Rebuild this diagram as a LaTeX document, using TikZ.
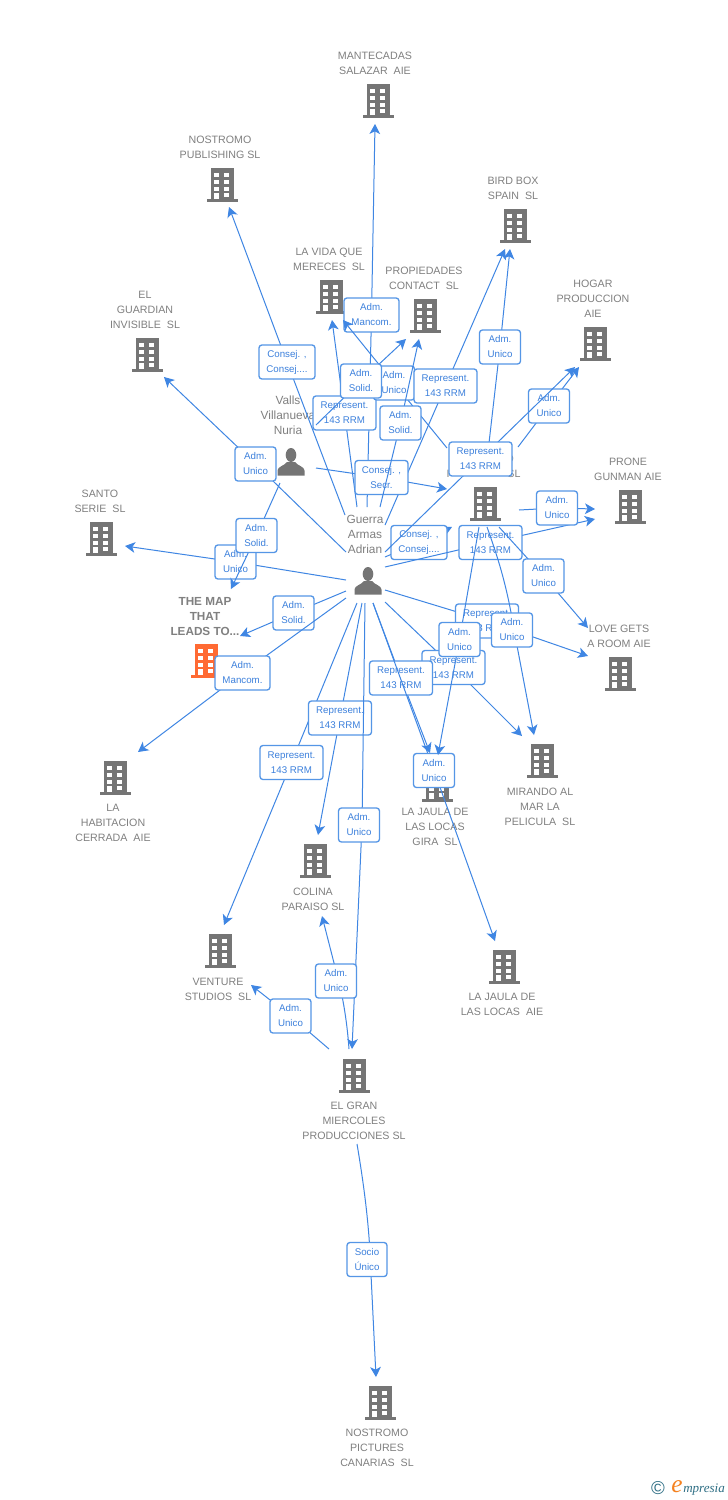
\documentclass[tikz,border=0pt]{standalone}
\usepackage{fontspec}
\setmainfont{Liberation Sans}
\newfontfamily\logofont{Liberation Serif}
\usetikzlibrary{arrows.meta,calc}
\definecolor{linkblue}{HTML}{3F86E3}
\definecolor{boxblue}{HTML}{5596E6}
\definecolor{boxtext}{HTML}{3C80DC}
\definecolor{labelgray}{HTML}{808080}
\definecolor{icongray}{HTML}{757575}
\definecolor{mapred}{HTML}{FF6A33}
\definecolor{logoteal}{HTML}{2F6F85}
\definecolor{logoorange}{HTML}{F58220}
\tikzset{
  x=0.75pt,y=-0.75pt,
  link/.style={draw=linkblue,line width=0.75pt,-{Stealth[length=7.5pt,width=8pt,inset=2pt]}},
  tagbox/.style={draw=boxblue,line width=1pt,fill=white,rounded corners=2.2pt,inner sep=0pt,
    minimum height=25.5pt,align=center,text=boxtext,font=\fontsize{7.3}{11.25}\selectfont},
  lab/.style={yshift=-0.6pt,text=labelgray,align=center,inner sep=0pt,font=\fontsize{8}{11.25}\selectfont},
  perlab/.style={yshift=-0.6pt,text=labelgray,align=center,inner sep=0pt,font=\fontsize{8.9}{11.25}\selectfont},
  maplab/.style={yshift=-0.6pt,text=labelgray,align=center,inner sep=0pt,font=\fontsize{8.8}{11.25}\selectfont\bfseries},
  marker/.style={inner sep=0pt,minimum width=23.25pt,minimum height=25.5pt},
  bldg/.pic={
    \fill[#1] (-11.5,-17) rectangle (11.5,14);
    \fill[#1] (-15.5,14) rectangle (15.5,17);
    \foreach \yy in {-12.3,-5,1.7}{
      \fill[white] (-7.8,\yy) rectangle ++(4.4,4.2);
      \fill[white] (2.2,\yy) rectangle ++(4.4,4.2);
    }
    \fill[white] (-7.8,7.7) rectangle (-3.4,14);
    \fill[white] (2.2,7.7) rectangle (6.6,11.7);
  },
  personpic/.pic={
    \fill[icongray] (0,-7) ellipse [x radius=5.3,y radius=7];
    \fill[icongray] (-13.5,13.5) -- (-13.5,8.5) .. controls (-13.5,4.5) and (-6,3.5) .. (-4,0)
      -- (4,0) .. controls (6,3.5) and (13.5,4.5) .. (13.5,8.5) -- (13.5,13.5) -- cycle;
  },
}
% #1 name, #2 x, #3 y, #4 colour
\newcommand\bldgat[4]{\node[marker] (#1) at (#2,#3) {}; \pic at (#1) {bldg=#4};}
\newcommand\personat[3]{\node[marker] (#1) at (#2,#3) {}; \pic at (#1) {personpic};}
% #1 id, #2 source node, #3 source offset, #4 target node, #5 target offset, #6 box centre, #7 width (px), #8 text
\newcommand\lnk[8]{\draw[link] ($(#2)+(#3)$) -- (#6)
  node[tagbox,pos=1,minimum width=#7*0.75pt] (#1) {#8} -- ($(#4)+(#5)$);}
% bent connector: #1 id, #2 full path, #3 box centre, #4 width, #5 text
\newcommand\bentlnk[5]{\draw[link] #2; \node[tagbox,minimum width=#4*0.75pt] (#1) at (#3) {#5};}
\begin{document}
\begin{tikzpicture}
\useasboundingbox (0,0) rectangle (728,1500);
\fill[white] (0,0) rectangle (728,1500);

% --- companies and people
\bldgat{mantecadas}{378}{101}{icongray}
\node[lab] (mantecadasL) at (375,62.5) {MANTECADAS\\SALAZAR\ \ AIE};
\bldgat{nostromo}{222}{185}{icongray}
\node[lab] (nostromoL) at (220,146.5) {NOSTROMO\\PUBLISHING SL};
\bldgat{birdbox}{515}{226}{icongray}
\node[lab] (birdboxL) at (513,187.5) {BIRD BOX\\SPAIN\ \ SL};
\bldgat{lavida}{331}{297}{icongray}
\node[lab] (lavidaL) at (329,258.5) {LA VIDA QUE\\MERECES\ \ SL};
\bldgat{propiedades}{425}{316}{icongray}
\node[lab] (propiedadesL) at (424,277.5) {PROPIEDADES\\CONTACT\ \ SL};
\bldgat{hogar}{595}{344}{icongray}
\node[lab] (hogarL) at (593,298) {HOGAR\\PRODUCCION\\AIE};
\bldgat{guardian}{147}{355}{icongray}
\node[lab] (guardianL) at (145,309) {EL\\GUARDIAN\\INVISIBLE\ \ SL};
\bldgat{prone}{630}{507}{icongray}
\node[lab] (proneL) at (628,468.5) {PRONE\\GUNMAN AIE};
\bldgat{hub}{485}{504}{icongray}
\node[lab] (hubA) at (510,458) {D};
\node[lab] (hubB) at (448,473) {I};
\node[lab] (hubC) at (514,473) {SL};
\bldgat{santo}{101}{539}{icongray}
\node[lab] (santoL) at (100,500.5) {SANTO\\SERIE\ \ SL};
\bldgat{themap}{206}{661}{mapred}
\node[maplab] (themapL) at (205,616) {THE MAP\\THAT\\LEADS TO...};
\bldgat{lovegets}{620}{674}{icongray}
\node[lab] (lovegetsL) at (619,635.5) {LOVE GETS\\A ROOM AIE};
\bldgat{habit}{115}{778}{icongray}
\node[lab] (habitL) at (113,822) {LA\\HABITACION\\CERRADA\ \ AIE};
\bldgat{mirando}{542}{761}{icongray}
\node[lab] (mirandoL) at (540,806) {MIRANDO AL\\MAR LA\\PELICULA\ \ SL};
\bldgat{jaulagira}{437}{785}{icongray}
\node[lab] (jaulagiraL) at (435,826) {LA JAULA DE\\LAS LOCAS\\GIRA\ \ SL};
\bldgat{colina}{315}{861}{icongray}
\node[lab] (colinaL) at (313,898.5) {COLINA\\PARAISO SL};
\bldgat{venture}{220}{951}{icongray}
\node[lab] (ventureL) at (218,988.5) {VENTURE\\STUDIOS\ \ SL};
\bldgat{jaulaaie}{504}{967}{icongray}
\node[lab] (jaulaaieL) at (502,1003.5) {LA JAULA DE\\LAS LOCAS\ \ AIE};
\bldgat{elgran}{354}{1076}{icongray}
\node[lab] (elgranL) at (354,1120) {EL GRAN\\MIERCOLES\\PRODUCCIONES SL};
\bldgat{nostromopict}{380}{1403}{icongray}
\node[lab] (nostromopictL) at (377,1447) {NOSTROMO\\PICTURES\\CANARIAS\ \ SL};
\personat{valls}{291}{462}
\node[perlab] (vallsL) at (288,414) {Valls\\Villanueva\\Nuria};
\personat{guerra}{368}{581}
\node[perlab] (guerraL) at (365,534) {Guerra\\Armas\\Adrian};

% --- connectors with their tags, in stacking order
\lnk{a1}{guerra}{-1,-74}{mantecadas}{-3,23}{371.5,315}{55}{Adm.\\Mancom.}
\lnk{a2}{guerra}{-23,-66}{nostromo}{7,22}{287,362}{56}{Consej. ,\\Consej....}
\lnk{a3}{guerra}{-11,-74}{lavida}{1,23}{344.5,413}{63}{Represent.\\143 RRM}
\lnk{a4}{hub}{-38,-56}{lavida}{12,23}{394,383}{41}{Adm.\\Unico}
\lnk{a5}{guerra}{17,-56}{birdbox}{-10,23}{445.5,386}{63}{Represent.\\143 RRM}
\lnk{a6}{valls}{25,6}{hub}{-38,-15}{381.5,477.5}{53}{Consej. ,\\Secr.}
\lnk{a7}{valls}{25,-37}{propiedades}{-19,23}{361,381}{41}{Adm.\\Solid.}
\lnk{a8}{guerra}{12,-74}{propiedades}{-6,23}{400.5,423}{41}{Adm.\\Solid.}
\lnk{a9}{guerra}{-22,-29}{guardian}{17,22}{255.5,464}{41}{Adm.\\Unico}
\lnk{a10}{guerra}{-22,-1}{santo}{24,7}{235.5,562}{41}{Adm.\\Unico}
\lnk{a11}{guerra}{-22,10}{themap}{34,-25}{293.5,613}{41}{Adm.\\Solid.}
\lnk{a12}{guerra}{-22,17}{habit}{23,-26}{242.5,673}{55}{Adm.\\Mancom.}
\lnk{a13}{guerra}{-11,22}{venture}{4,-26}{291.5,762.5}{63}{Represent.\\143 RRM}
\lnk{a14}{guerra}{-6,22}{colina}{3,-26}{340,718}{63}{Represent.\\143 RRM}
\bentlnk{a15}{($(guerra)+(-3,22)$) -- (362,825) -- ($(elgran)+(-2,-27)$)}{359,825}{41}{Adm.\\Unico}
\lnk{a16}{guerra}{17,9}{lovegets}{-32,-18}{487,621}{63}{Represent.\\143 RRM}
\lnk{a17}{guerra}{17,21}{mirando}{-20,-25}{453.5,667.5}{63}{Represent.\\143 RRM}
\lnk{a18}{guerra}{5,22}{jaulagira}{-7,-32}{401,678}{63}{Represent.\\143 RRM}
\lnk{a19}{guerra}{5,22}{jaulaaie}{-9,-26}{434,770.5}{41}{Adm.\\Unico}
\lnk{a20}{valls}{-11,21}{themap}{25,-72}{256.5,535.5}{41}{Adm.\\Solid.}
\lnk{a21}{guerra}{17,-24}{hub}{-33,23}{419,542.5}{56}{Consej. ,\\Consej....}
\lnk{a22}{guerra}{17,-14}{prone}{-35,12}{490.5,542.5}{63}{Represent.\\143 RRM}
\lnk{a23}{hub}{-6,23}{jaulagira}{1,-30}{459.5,639.5}{41}{Adm.\\Unico}
\bentlnk{a24}{($(hub)+(2,23)$) .. controls (497,555) and (507,585) .. (514,630) -- ($(mirando)+(-8,-26)$)}{512,630}{41}{Adm.\\Unico}
\lnk{a25}{hub}{14,23}{lovegets}{-32,-46}{543.5,576}{41}{Adm.\\Unico}
\lnk{a26}{hub}{34,6}{prone}{-35,2}{557,508}{41}{Adm.\\Unico}
\lnk{a27}{hub}{4,-61}{birdbox}{-5,23}{500,347}{41}{Adm.\\Unico}
\lnk{a28}{hub}{33,-57}{hogar}{-16,23}{549,406}{41}{Adm.\\Unico}
\lnk{a29}{guerra}{17,-29}{hogar}{-20,23}{480.5,459}{63}{Represent.\\143 RRM}
\bentlnk{a30}{($(elgran)+(-5,-27)$) .. controls (347,1020) and (342,990) .. (334,963) -- ($(colina)+(7,55)$)}{336,981}{41}{Adm.\\Unico}
\lnk{a31}{elgran}{-25,-27}{venture}{31,34}{290.5,1016}{41}{Adm.\\Unico}
\bentlnk{a32}{($(elgran)+(3,68)$) .. controls (364,1185) and (369,1225) .. (370.3,1260) -- ($(nostromopict)+(-4,-26)$)}{367,1259.5}{40}{Socio\\Único}

% --- logo
\node[inner sep=0pt,text=logoteal,font=\fontsize{14}{14}\selectfont] (logoC) at (658,1488.5) {©};
\node[inner sep=0pt,text=logoorange,font=\logofont\itshape\fontsize{19}{19}\selectfont] (logoE) at (677,1487) {e};
\node[inner sep=0pt,anchor=west,text=logoteal,font=\logofont\itshape\fontsize{9.8}{9.8}\selectfont] (logoT) at (683,1490) {mpresia};
\end{tikzpicture}
\end{document}
